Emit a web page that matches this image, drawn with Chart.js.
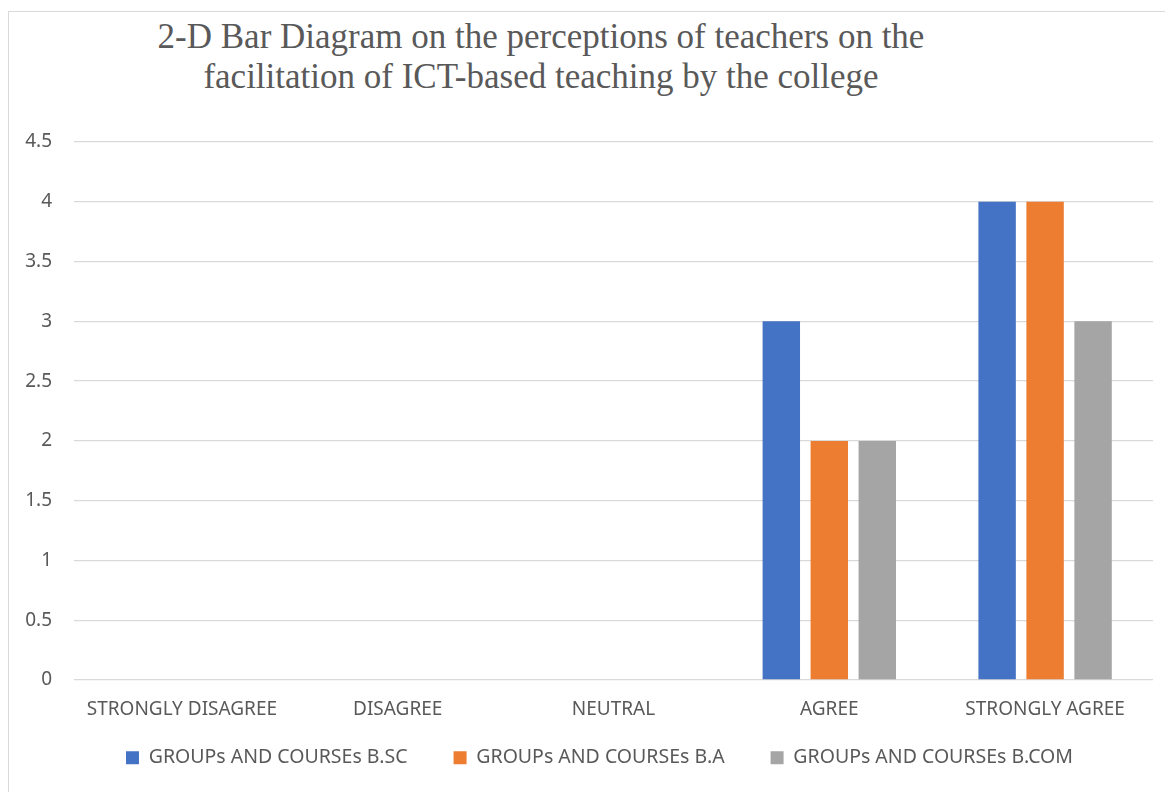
<!DOCTYPE html>
<html>
<head>
<meta charset="utf-8">
<script src="https://cdn.jsdelivr.net/npm/chart.js@4"></script>
<style>
    body { margin: 0; background: #fff; }
    #frame { position: absolute; left: 8px; top: 11px; width: 1170px; height: 800px; border: 1px solid #d9d9d9; }
    #title { position: absolute; left: 0; top: 17px; width: 1082px; text-align: center; font-family: "Liberation Serif", serif; font-size: 35px; line-height: 40px; color: #595959; }
    #wrap { position: absolute; left: 0; top: 0; width: 1165px; height: 792px; }
</style>
</head>
<body>
<div id="frame"></div>
<div id="title">2-D Bar Diagram on the perceptions of teachers on the<br>facilitation of ICT-based teaching by the college</div>
<div id="wrap"><canvas id="barChart"></canvas></div>
<script>
const categories = ['STRONGLY DISAGREE', 'DISAGREE', 'NEUTRAL', 'AGREE', 'STRONGLY AGREE'];
const seriesNames = ['GROUPs AND COURSEs B.SC', 'GROUPs AND COURSEs B.A', 'GROUPs AND COURSEs B.COM'];
const bscValues = [0, 0, 0, 3, 4];
const baValues = [0, 0, 0, 2, 4];
const bcomValues = [0, 0, 0, 2, 3];
const seriesColors = ['#4472C4', '#ED7D31', '#A5A5A5'];

document.addEventListener('DOMContentLoaded', function() {
    const canvas = document.getElementById('barChart');
    const tickFont = { family: '"Noto Sans", sans-serif', size: 19 };
    const legendFont = { family: '"Noto Sans", sans-serif', size: 19.5 };

    const datasets = [bscValues, baValues, bcomValues].map((vals, i) => ({
        label: seriesNames[i],
        data: vals,
        backgroundColor: seriesColors[i],
        borderWidth: 0,
        categoryPercentage: 0.667,
        barPercentage: 0.78
    }));

    // the legend in the original sits a little right of centre and close under the labels
    const legendShift = {
        id: 'legendShift',
        afterLayout(chart) {
            const lg = chart.legend;
            lg.left += 23; lg.right += 23;
            lg.top = chart.chartArea.bottom + 22;
            lg.height = chart.height - lg.top;
            lg.bottom = chart.height;
        }
    };

    new Chart(canvas, {
        type: 'bar',
        data: { labels: categories, datasets: datasets },
        plugins: [legendShift],
        options: {
            responsive: true,
            maintainAspectRatio: false,
            animation: false,
            layout: { padding: { top: 142, right: 12, left: 0, bottom: 10 } },
            plugins: {
                tooltip: { enabled: false },
                legend: {
                    position: 'bottom',
                    maxHeight: 55,
                    labels: { boxWidth: 13, boxHeight: 13, padding: 46, color: '#595959', font: legendFont }
                }
            },
            scales: {
                x: {
                    grid: { display: false },
                    border: { display: false },
                    ticks: { color: '#595959', font: tickFont, padding: 10, maxRotation: 0 },
                    afterFit: s => { s.height = 47; }
                },
                y: {
                    min: 0, max: 4.5,
                    grid: { color: '#d9d9d9', lineWidth: 1.3, drawTicks: false },
                    border: { display: false },
                    ticks: { stepSize: 0.5, color: '#595959', font: tickFont, padding: 22, callback: v => String(v) },
                    afterFit: s => { s.width = 74; }
                }
            }
        }
    });
});
</script>
</body>
</html>
